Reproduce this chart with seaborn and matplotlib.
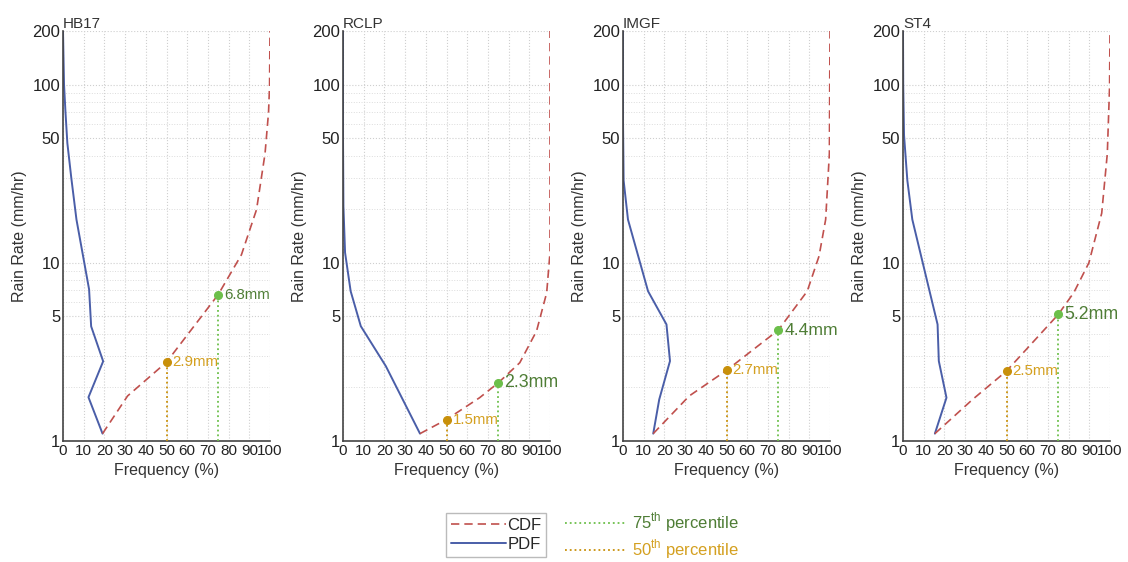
import numpy as np
import pandas as pd
import matplotlib
matplotlib.use("Agg")
import matplotlib.pyplot as plt
from matplotlib.ticker import FixedLocator, NullFormatter, LogLocator, MultipleLocator
from matplotlib.lines import Line2D
import seaborn as sns

# ==========================================
# 1. DATA
# ==========================================
stations = ["HB17", "RCLP", "IMGF", "ST4"]

# PDF curves: frequency (%) vs rain rate (mm/hr)
hb17_pdf_freq = [19.1, 12.3, 19.4, 13.6, 12.6, 6.5, 4.0, 2.1, 1.2, 0.5, 0.2, 0.0]
hb17_pdf_rate = [1.1, 1.76, 2.8, 4.4, 7.1, 17.5, 30, 47, 70, 100, 150, 200]
rclp_pdf_freq = [37.2, 20.7, 8.6, 3.7, 1.0, 0.2, 0.0, 0.0]
rclp_pdf_rate = [1.1, 2.63, 4.41, 6.93, 11.4, 20.8, 50, 200]
imgf_pdf_freq = [14.6, 17.5, 22.7, 21.0, 12.1, 2.4, 0.3, 0.0, 0.0]
imgf_pdf_rate = [1.1, 1.71, 2.81, 4.51, 6.93, 17.5, 29, 63, 200]
st4_pdf_freq = [15.4, 21.0, 17.3, 16.7, 4.5, 2.1, 0.5, 0.1, 0.0]
st4_pdf_rate = [1.1, 1.75, 2.81, 4.51, 17.5, 29, 52, 100, 200]

# CDF curves
hb17_cdf_freq = [19.1, 31.2, 50.0, 75.0, 86.2, 93.5, 97.6, 99.3, 99.8, 100]
hb17_cdf_rate = [1.1, 1.79, 2.77, 6.64, 11.1, 19.9, 41, 70, 100, 200]
rclp_cdf_freq = [37.2, 50.0, 66.0, 75.0, 85.4, 93.5, 98.4, 100, 100]
rclp_cdf_rate = [1.1, 1.32, 1.75, 2.12, 2.75, 4.14, 6.79, 11.4, 200]
imgf_cdf_freq = [14.6, 32.0, 50.0, 75.0, 89.0, 94.7, 97.9, 99.7, 100]
imgf_cdf_rate = [1.1, 1.79, 2.49, 4.19, 6.93, 10.9, 17.5, 41, 200]
st4_cdf_freq = [15.4, 33.6, 50.0, 75.0, 82.5, 89.8, 96.0, 98.7, 99.8, 100]
st4_cdf_rate = [1.1, 1.71, 2.47, 5.13, 6.8, 10, 19, 41, 98, 200]

# percentile markers (position on curve) and their annotated values
pct_levels = [50, 75]
p50_rate = [2.77, 1.32, 2.49, 2.47]
p75_rate = [6.64, 2.12, 4.19, 5.13]
p50_label = [2.9, 1.5, 2.7, 2.5]
p75_label = [6.8, 2.3, 4.4, 5.2]

pdf_freq = [hb17_pdf_freq, rclp_pdf_freq, imgf_pdf_freq, st4_pdf_freq]
pdf_rate = [hb17_pdf_rate, rclp_pdf_rate, imgf_pdf_rate, st4_pdf_rate]
cdf_freq = [hb17_cdf_freq, rclp_cdf_freq, imgf_cdf_freq, st4_cdf_freq]
cdf_rate = [hb17_cdf_rate, rclp_cdf_rate, imgf_cdf_rate, st4_cdf_rate]

# ==========================================
# 2. STYLE
# ==========================================
sns.set_style("white")
plt.rcParams["font.family"] = ["Liberation Sans", "DejaVu Sans"]
plt.rcParams["mathtext.fontset"] = "custom"
plt.rcParams["mathtext.rm"] = "Liberation Sans"

cdf_color = "#c0504d"
pdf_color = "#4a5ea8"
p75_marker, p75_text = "#6cbf4a", "#4e7d35"
p50_marker, p50_text = "#c8900a", "#d4a020"
p75_size = [10.8, 12.8, 12.6, 12.8]

fig = plt.figure(figsize=(11.28, 5.62), dpi=100)
lefts = [63, 343, 623, 903]

for i, name in enumerate(stations):
    ax = fig.add_axes([lefts[i] / 1128, 1 - 441 / 562, 207 / 1128, 410 / 562])
    ax.set_yscale("log")

    df_pdf = pd.DataFrame({"freq": pdf_freq[i], "rate": pdf_rate[i]})
    df_cdf = pd.DataFrame({"freq": cdf_freq[i], "rate": cdf_rate[i]})
    sns.lineplot(data=df_pdf, x="freq", y="rate", sort=False, estimator=None,
                 color=pdf_color, lw=1.4, ax=ax)
    sns.lineplot(data=df_cdf, x="freq", y="rate", sort=False, estimator=None,
                 color=cdf_color, lw=1.2, ax=ax, linestyle=(0, (5, 3)))

    # percentile drop lines, markers and labels
    for lvl, ry, lab, mc, tc, fs in [
        (pct_levels[0], p50_rate[i], p50_label[i], p50_marker, p50_text, 10.8),
        (pct_levels[1], p75_rate[i], p75_label[i], p75_marker, p75_text, p75_size[i]),
    ]:
        ax.plot([lvl, lvl], [1, ry], ls=":", color=mc, lw=1.3, zorder=3)
        ax.plot([lvl], [ry], "o", color=mc, ms=5.5, zorder=4)
        ax.text(lvl + 3, ry, f"{lab}mm", color=tc, fontsize=fs,
                va="center", ha="left", zorder=5)

    ax.set_xlim(0, 100)
    ax.set_ylim(1, 200)
    ax.xaxis.set_major_locator(MultipleLocator(10))
    ax.xaxis.set_minor_locator(MultipleLocator(2.5))
    ax.yaxis.set_major_locator(FixedLocator([1, 5, 10, 50, 100, 200]))
    ax.set_yticklabels(["1", "5", "10", "50", "100", "200"])
    ax.yaxis.set_minor_locator(LogLocator(base=10, subs=np.arange(2, 10)))
    ax.yaxis.set_minor_formatter(NullFormatter())

    ax.grid(True, which="major", ls=":", color="#cfcfcf", lw=0.8)
    ax.yaxis.grid(True, which="minor", ls=":", color="#dcdcdc", lw=0.7)

    ax.tick_params(which="both", direction="in", color="#555555",
                   labelcolor="#222222", pad=2)
    ax.tick_params(axis="y", labelsize=12)
    ax.tick_params(axis="x", labelsize=11)
    ax.tick_params(which="major", length=6, width=0.9)
    ax.tick_params(which="minor", length=3, width=0.7)
    for s in ["top", "right"]:
        ax.spines[s].set_visible(False)
    for s in ["left", "bottom"]:
        ax.spines[s].set_color("#444444")
        ax.spines[s].set_linewidth(1.2)

    ax.set_xlabel("Frequency (%)", fontsize=11.5, labelpad=4, color="#333333")
    ax.set_ylabel("Rain Rate (mm/hr)", fontsize=11.5, labelpad=4, color="#333333")
    ax.set_title(name, loc="left", fontsize=11, pad=2, color="#333333")

# ==========================================
# 3. LEGENDS
# ==========================================
h1 = [Line2D([], [], color=cdf_color, lw=1.2, ls=(0, (5, 3))),
      Line2D([], [], color=pdf_color, lw=1.4)]
leg1 = fig.legend(h1, ["CDF", "PDF"], loc="center",
                  bbox_to_anchor=(496 / 1128, 1 - 535 / 562), fontsize=12,
                  handlelength=3.3, handletextpad=0.1, borderpad=0.3,
                  labelspacing=0.25, fancybox=False, edgecolor="#aaaaaa")

h2 = [Line2D([], [], color=p75_marker, lw=1.3, ls=":"),
      Line2D([], [], color=p50_marker, lw=1.3, ls=":")]
leg2 = fig.legend(h2, ["75$^{\\mathrm{th}}$ percentile", "50$^{\\mathrm{th}}$ percentile"],
                  loc="center left", bbox_to_anchor=(550 / 1128, 1 - 536 / 562),
                  fontsize=12, frameon=False, handlelength=3.6,
                  handletextpad=0.4, labelspacing=0.2)
for t, c in zip(leg2.get_texts(), [p75_text, p50_text]):
    t.set_color(c)

fig.savefig("out.png", dpi=100)
